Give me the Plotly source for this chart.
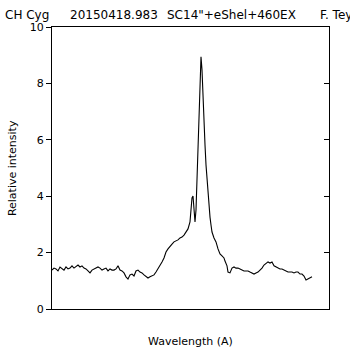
import plotly.graph_objects as go

wavelength = [6490, 6491, 6492, 6493, 6494, 6495, 6496, 6497, 6498, 6499,
              6500, 6501, 6502, 6503, 6504, 6505, 6506, 6507, 6508, 6509,
              6510, 6511, 6512, 6513, 6514, 6515, 6516, 6517, 6518, 6519,
              6520, 6521, 6522, 6523, 6524, 6525, 6526, 6527, 6528, 6529,
              6530, 6531, 6532, 6533, 6534, 6535, 6536, 6537, 6538, 6539,
              6540, 6541, 6542, 6543, 6544, 6545, 6546, 6547, 6548, 6549,
              6550, 6551, 6552, 6553, 6554, 6555, 6556, 6557, 6558, 6559,
              6559.5, 6560, 6560.5, 6561, 6561.5, 6562, 6562.5, 6563, 6563.5,
              6564, 6564.5, 6565, 6565.5, 6566, 6566.5, 6567, 6567.5, 6568,
              6568.5, 6569, 6569.5, 6570, 6571, 6572, 6573, 6574, 6575, 6576,
              6576.5, 6577, 6577.5, 6578, 6579, 6580, 6581, 6582, 6583, 6584,
              6585, 6586, 6587, 6588, 6589, 6590, 6591, 6592, 6593, 6594,
              6595, 6596, 6597, 6598, 6599, 6600, 6601, 6602, 6603, 6604,
              6605, 6606, 6607, 6608, 6609, 6610, 6611, 6612, 6613, 6614,
              6615, 6616, 6617, 6618, 6619, 6620]

intensity = [1.38, 1.45, 1.42, 1.35, 1.49, 1.45, 1.38, 1.49, 1.42, 1.45,
             1.53, 1.45, 1.49, 1.56, 1.49, 1.53, 1.45, 1.42, 1.35, 1.28,
             1.38, 1.42, 1.45, 1.49, 1.45, 1.38, 1.42, 1.45, 1.35, 1.42,
             1.38, 1.38, 1.42, 1.53, 1.38, 1.35, 1.28, 1.14, 1.06, 1.21,
             1.24, 1.17, 1.35, 1.38, 1.31, 1.28, 1.21, 1.17, 1.10, 1.14,
             1.17, 1.21, 1.31, 1.42, 1.53, 1.67, 1.81, 2.02, 2.13, 2.20,
             2.30, 2.38, 2.41, 2.45, 2.52, 2.55, 2.62, 2.73, 2.84, 3.09,
             3.51, 3.94, 4.01, 3.51, 3.09, 3.51, 4.57, 5.99, 7.41,
             8.48, 8.94, 8.48, 7.41, 6.53, 5.82, 5.11, 4.57, 4.04,
             3.62, 3.26, 2.98, 2.73, 2.52, 2.38, 2.13, 1.95, 1.88, 1.81,
             1.70, 1.63, 1.53, 1.31, 1.28, 1.45, 1.49, 1.45, 1.45, 1.42,
             1.38, 1.35, 1.35, 1.35, 1.31, 1.28, 1.24, 1.28, 1.31, 1.38,
             1.45, 1.56, 1.63, 1.67, 1.63, 1.67, 1.53, 1.49, 1.45, 1.42,
             1.42, 1.38, 1.35, 1.31, 1.31, 1.31, 1.28, 1.31, 1.31, 1.24,
             1.24, 1.17, 1.03, 1.06, 1.10, 1.14]

y_ticks = [0, 2, 4, 6, 8, 10]
header = ["CH Cyg", "20150418.983", "SC14\"+eShel+460EX", "F. Teyssier"]
header_pos = [-0.177, 0.058, 0.408, 0.960]

FONT = "DejaVu Sans"

fig = go.Figure()
fig.add_trace(go.Scatter(x=wavelength, y=intensity, mode="lines",
                         line=dict(color="black", width=1.1),
                         showlegend=False, hoverinfo="skip"))
# invisible companion trace for the right-hand inward ticks
fig.add_trace(go.Scatter(x=[wavelength[0]], y=[intensity[0]], yaxis="y2",
                         mode="lines", line=dict(width=0), showlegend=False,
                         hoverinfo="skip"))

fig.update_layout(
    width=350, height=350,
    margin=dict(l=52, r=21, t=27, b=41),
    paper_bgcolor="white", plot_bgcolor="white",
    font=dict(family=FONT, size=11, color="black"),
    xaxis=dict(range=[6490, 6628.5], showline=True, linecolor="black",
               linewidth=1, mirror=True, showgrid=False, zeroline=False,
               showticklabels=False, ticks=""),
    yaxis=dict(range=[0, 10], tickvals=y_ticks, ticks="outside", ticklen=5,
               tickcolor="black", showline=True, linecolor="black",
               linewidth=1, showgrid=False, zeroline=False,
               tickfont=dict(family=FONT, size=11, color="black")),
    yaxis2=dict(range=[0, 10], tickvals=y_ticks, overlaying="y", side="right",
                ticks="inside", ticklen=5, tickcolor="black", showline=True,
                linecolor="black", linewidth=1, showgrid=False,
                zeroline=False, showticklabels=False),
)

for txt, px in zip(header, header_pos):
    fig.add_annotation(text=txt, xref="paper", yref="paper", x=px, y=1.043,
                       xanchor="left", yanchor="middle", showarrow=False,
                       font=dict(family=FONT, size=12, color="black"))

fig.add_annotation(text="Relative intensity", xref="paper", yref="paper",
                   x=-0.144, y=0.5, textangle=-90, xanchor="center",
                   yanchor="middle", showarrow=False,
                   font=dict(family=FONT, size=11, color="black"))
fig.add_annotation(text="Wavelength (A)", xref="paper", yref="paper",
                   x=0.5, y=-0.117, xanchor="center", yanchor="middle",
                   showarrow=False,
                   font=dict(family=FONT, size=11, color="black"))

fig.write_html("out.html",
               config={"displayModeBar": False},
               post_script="document.body.style.margin='0';"
                           "document.body.style.overflow='hidden';")
